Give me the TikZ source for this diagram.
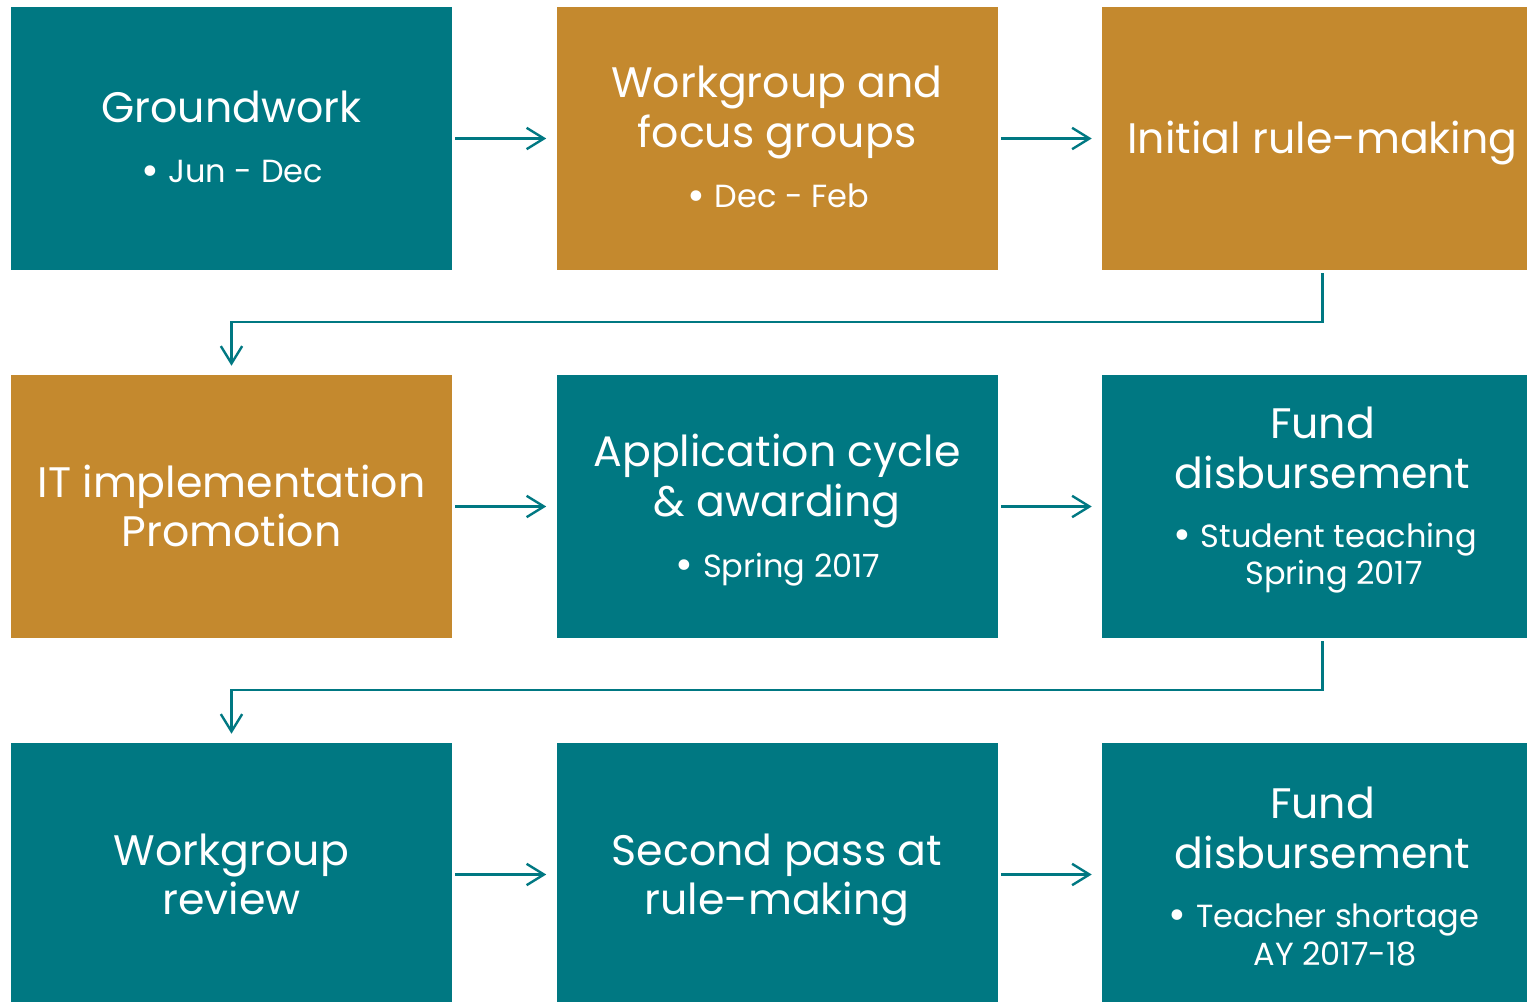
\documentclass[tikz,border=0pt]{standalone}
\usepackage{fontspec}
\setmainfont{Poppins}
\usetikzlibrary{arrows.meta,calc}
\definecolor{tealbox}{HTML}{007882}
\definecolor{goldbox}{HTML}{C4892E}
\newcommand{\bul}{\raisebox{-0.07em}{\scalebox{1.35}{\textbullet}}\hspace{0.3em}}
\begin{document}
\begin{tikzpicture}[x=0.75pt,y=-0.75pt,
  box/.style={rectangle,inner sep=0pt,minimum width=330.75pt,minimum height=197.25pt,draw=none},
  tbox/.style={box,fill=tealbox},
  gbox/.style={box,fill=goldbox},
  ttl/.style={text=white,font=\fontsize{32}{38}\selectfont,inner sep=0pt,anchor=base},
  sub/.style={text=white,font=\fontsize{24}{29}\selectfont,inner sep=0pt,anchor=base},
  arr/.style={draw=tealbox,line width=1.8pt,-{Straight Barb[length=13pt,width=16pt]}}]
\useasboundingbox (0,0) rectangle (1527,1002);
\clip (0,0) rectangle (1527,1002);
% boxes
\node[tbox] (b1) at (231.5,138.5) {};
\node[gbox] (b2) at (777,138.5) {};
\node[gbox] (b3) at (1322.5,138.5) {};
\node[gbox] (b4) at (231.5,506.5) {};
\node[tbox] (b5) at (777,506.5) {};
\node[tbox] (b6) at (1322.5,506.5) {};
\node[tbox] (b7) at (231.5,874.5) {};
\node[tbox] (b8) at (777,874.5) {};
\node[tbox] (b9) at (1322.5,874.5) {};
% texts
\node[ttl] (t1) at (231.5,123) {Groundwork};
\node[sub] (s1) at (232,183) {\bul Jun - Dec};
\node[ttl] (t2a) at (777,98) {Workgroup and};
\node[ttl] (t2b) at (777,148) {focus groups};
\node[sub] (s2) at (778,208) {\bul Dec - Feb};
\node[ttl] (t3) at (1322.5,154) {Initial rule-making};
\node[ttl] (t4a) at (231.5,497) {IT implementation};
\node[ttl] (t4b) at (231.5,546) {Promotion};
\node[ttl] (t5a) at (777,466) {Application cycle};
\node[ttl] (t5b) at (777,516) {\& awarding};
\node[sub] (s5) at (778,577) {\bul Spring 2017};
\node[ttl] (t6a) at (1322.5,438) {Fund};
\node[ttl] (t6b) at (1322.5,488) {disbursement};
\node[sub] (s6a) at (1325,547) {\bul Student teaching};
\node[sub] (s6b) at (1334,584) {Spring 2017};
\node[ttl] (t7a) at (231.5,865) {Workgroup};
\node[ttl] (t7b) at (231.5,914) {review};
\node[ttl] (t8a) at (777,865) {Second pass at};
\node[ttl] (t8b) at (777,914) {rule-making};
\node[ttl] (t9a) at (1322.5,818) {Fund};
\node[ttl] (t9b) at (1322.5,868) {disbursement};
\node[sub] (s9a) at (1324,927) {\bul Teacher shortage};
\node[sub] (s9b) at (1335,965) {AY 2017-18};
% connectors
\draw[arr,shorten <=2.25pt,shorten >=7.5pt] (b1.east) -- (b2.west);
\draw[arr,shorten <=2.25pt,shorten >=7.5pt] (b2.east) -- (b3.west);
\draw[arr,shorten <=2.25pt,shorten >=7.5pt] (b4.east) -- (b5.west);
\draw[arr,shorten <=2.25pt,shorten >=7.5pt] (b5.east) -- (b6.west);
\draw[arr,shorten <=2.25pt,shorten >=7.5pt] (b7.east) -- (b8.west);
\draw[arr,shorten <=2.25pt,shorten >=7.5pt] (b8.east) -- (b9.west);
\draw[arr,shorten <=2.25pt,shorten >=6.75pt] (b3.south) -- ++(0,52) -| (b4.north);
\draw[arr,shorten <=2.25pt,shorten >=6.75pt] (b6.south) -- ++(0,52) -| (b7.north);
\end{tikzpicture}
\end{document}
